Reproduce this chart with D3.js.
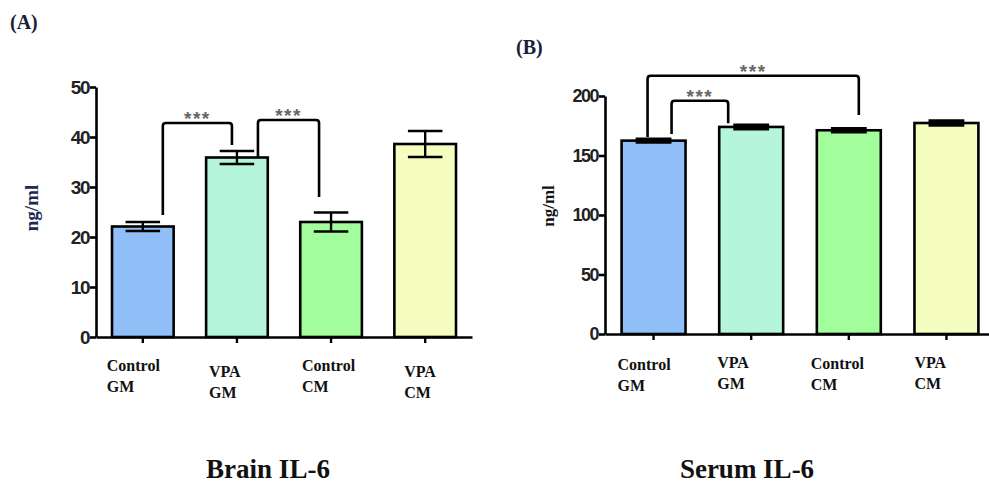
<!DOCTYPE html>
<html>
<head>
<meta charset="utf-8">
<script src="https://cdn.jsdelivr.net/npm/d3@7"></script>
<style>
  body { margin: 0; background: #fff; }
  svg { display: block; }
</style>
</head>
<body>
<script>
// data
const groups = ["Control GM", "VPA GM", "Control CM", "VPA CM"];
const labelLines = [["Control", "GM"], ["VPA", "GM"], ["Control", "CM"], ["VPA", "CM"]];
const colors = ["#90bff8", "#b4f5dc", "#a2fd9b", "#f5fdc0"];

const brainMean = [22.1, 35.9, 23.0, 38.6];
const brainErr  = [0.9, 1.3, 1.9, 2.6];
const brainTicks = [0, 10, 20, 30, 40, 50];
// brackets: [from, to, top, left end, right end] in ng/ml
const brainSig = [
  ["Control GM", "VPA GM", 42.8, 24.4, 38.4],
  ["VPA GM", "Control CM", 43.4, 36.0, 28.0]
];

const serumMean = [162.5, 174.0, 171.2, 177.3];
const serumErr  = [1.6, 1.8, 1.6, 2.0];
const serumTicks = [0, 50, 100, 150, 200];
const serumSig = [
  ["Control GM", "VPA GM", 196, 168, 177],
  ["Control GM", "Control CM", 217, 165.5, 184]
];

const W = 989, H = 486;
const svg = d3.select("body").append("svg").attr("width", W).attr("height", H);

const serif = "'Liberation Serif', 'Times New Roman', serif";
const sans = "'Liberation Sans', Arial, sans-serif";

function panel(opt) {
  const x = d3.scaleBand().domain(groups)
    .range([opt.x0, opt.x1]).paddingInner(0.345).paddingOuter(0.17);
  const y = d3.scaleLinear().domain(opt.domain).range([opt.y0, opt.y1]);
  const g = svg.append("g");

  // bars
  g.selectAll(".bar").data(groups).enter().append("rect")
    .attr("x", d => x(d))
    .attr("y", (d, i) => y(opt.mean[i]))
    .attr("width", x.bandwidth())
    .attr("height", (d, i) => y(0) - y(opt.mean[i]))
    .attr("fill", (d, i) => colors[i])
    .attr("stroke", "#000").attr("stroke-width", 2.6);

  // error bars
  const cap = x.bandwidth() * 0.28;
  groups.forEach((d, i) => {
    const cx = x(d) + x.bandwidth() / 2;
    const hi = y(opt.mean[i] + opt.err[i]), lo = y(opt.mean[i] - opt.err[i]);
    g.append("line").attr("x1", cx).attr("x2", cx).attr("y1", hi).attr("y2", lo)
      .attr("stroke", "#000").attr("stroke-width", 2.4);
    [hi, lo].forEach(v => g.append("line")
      .attr("x1", cx - cap).attr("x2", cx + cap).attr("y1", v).attr("y2", v)
      .attr("stroke", "#000").attr("stroke-width", 2.6));
  });

  // axes
  const yAxis = d3.axisLeft(y).tickValues(opt.ticks).tickSize(6).tickSizeOuter(0).tickPadding(1);
  const ya = g.append("g").attr("transform", `translate(${opt.x0},0)`).call(yAxis);
  ya.select(".domain").attr("stroke-width", 2.6);
  ya.selectAll(".tick line").attr("stroke-width", 2.6);
  ya.selectAll("text")
    .style("font-family", sans).style("font-weight", "bold")
    .style("font-size", opt.tickFont + "px").style("letter-spacing", "-1.5px")
    .attr("fill", "#222");

  const xAxis = d3.axisBottom(x).tickSize(6).tickSizeOuter(0).tickFormat("");
  const xa = g.append("g").attr("transform", `translate(0,${opt.y0})`).call(xAxis);
  xa.select(".domain").attr("stroke-width", 2.6);
  xa.selectAll(".tick line").attr("stroke-width", 2.4);

  // category labels, two lines, left aligned
  groups.forEach((d, i) => {
    const cx = x(d) + x.bandwidth() / 2;
    const t = g.append("text")
      .attr("x", cx + opt.labelDx[i]).attr("y", opt.labelY + opt.labelDy[i])
      .style("font-family", serif).style("font-weight", "bold")
      .style("font-size", "16px").attr("fill", "#111");
    labelLines[i].forEach((s, k) => t.append("tspan")
      .attr("x", cx + opt.labelDx[i]).attr("dy", k ? 21 : 0).text(s));
  });

  // significance brackets
  opt.sig.forEach((b, j) => {
    const xl = x(b[0]) + x.bandwidth() / 2 + opt.bracketDx[j][0];
    const xr = x(b[1]) + x.bandwidth() / 2 + opt.bracketDx[j][1];
    const top = y(b[2]);
    g.append("path")
      .attr("d", `M${xl},${y(b[3])}V${top + 3}Q${xl},${top} ${xl + 3},${top}H${xr - 3}Q${xr},${top} ${xr},${top + 3}V${y(b[4])}`)
      .attr("fill", "none").attr("stroke", "#000").attr("stroke-width", 2.6);
    g.append("text")
      .attr("x", (xl + xr) / 2).attr("y", top + 2)
      .attr("text-anchor", "middle")
      .style("font-family", sans).style("font-weight", "bold")
      .style("font-size", "19px").style("letter-spacing", "1.5px")
      .attr("fill", "#666").text("***");
  });
  return { x, y };
}

panel({
  x0: 96, x1: 472, y0: 337, y1: 87, domain: [0, 50],
  mean: brainMean, err: brainErr, ticks: brainTicks, sig: brainSig,
  tickFont: 19, labelY: 371, labelDx: [-36, -28, -29, -21], labelDy: [0, 6, 0, 6],
  bracketDx: [[20, -5], [21, -12]]
});

panel({
  x0: 605, x1: 995, y0: 334, y1: 96, domain: [0, 200],
  mean: serumMean, err: serumErr, ticks: serumTicks, sig: serumSig,
  tickFont: 18, labelY: 370, labelDx: [-36, -34, -38, -32], labelDy: [0, -2, -1, -2],
  bracketDx: [[18, -23], [-6, 10]]
});

// panel letters
svg.append("text").attr("x", 10).attr("y", 29).text("(A)")
  .style("font-family", serif).style("font-weight", "bold").style("font-size", "20px").attr("fill", "#1b1d3a");
svg.append("text").attr("x", 516).attr("y", 54).text("(B)")
  .style("font-family", serif).style("font-weight", "bold").style("font-size", "20px").attr("fill", "#1b1d3a");

// y titles
svg.append("text").attr("transform", "translate(38,208) rotate(-90)")
  .attr("text-anchor", "middle").text("ng/ml")
  .style("font-family", serif).style("font-weight", "bold").style("font-size", "19px").attr("fill", "#1c2a52");
svg.append("text").attr("transform", "translate(554,206) rotate(-90)")
  .attr("text-anchor", "middle").text("ng/ml")
  .style("font-family", serif).style("font-weight", "bold").style("font-size", "17px").attr("fill", "#111");

// panel titles
svg.append("text").attr("x", 268).attr("y", 478).attr("text-anchor", "middle").text("Brain IL-6")
  .style("font-family", serif).style("font-weight", "bold").style("font-size", "27px").attr("fill", "#111");
svg.append("text").attr("x", 747).attr("y", 478).attr("text-anchor", "middle").text("Serum IL-6")
  .style("font-family", serif).style("font-weight", "bold").style("font-size", "27px").attr("fill", "#111");
</script>
</body>
</html>
